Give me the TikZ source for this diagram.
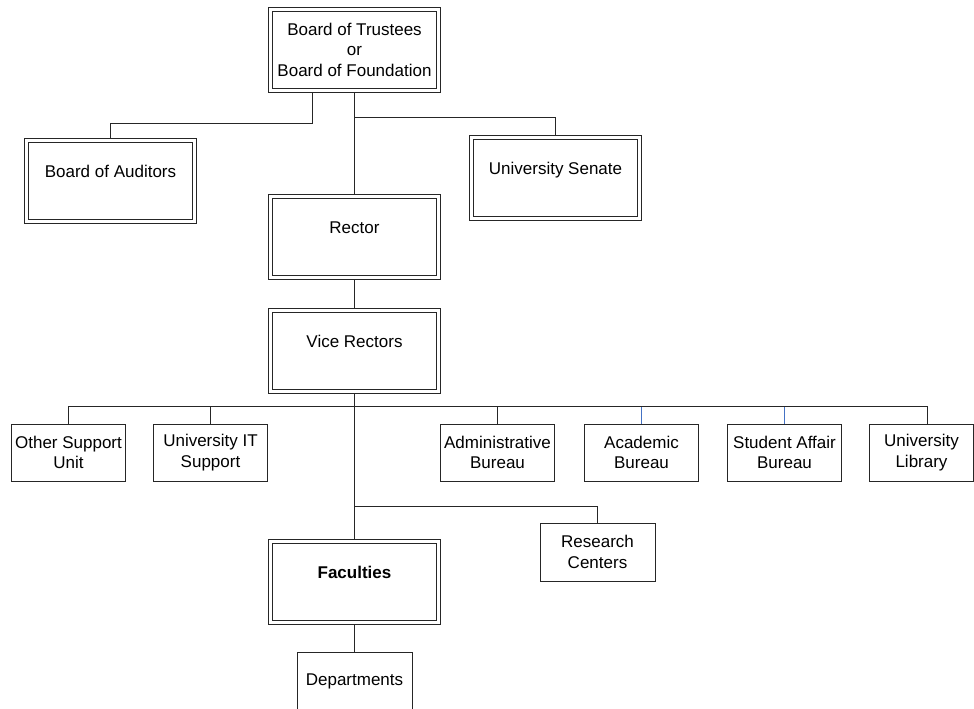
\documentclass[tikz,border=0pt]{standalone}
\usepackage{fontspec}
\setmainfont{Liberation Sans}
\definecolor{linkblue}{RGB}{68,114,196}
\tikzset{
  bigbox/.style={draw=black!85, line width=0.9pt, minimum width=172pt, minimum height=85pt, inner sep=0pt,
    path picture={\draw[black!85, line width=0.9pt] ([shift={(4pt,4pt)}]path picture bounding box.south west) rectangle ([shift={(-4pt,-4pt)}]path picture bounding box.north east);}},
  onerow/.style={text height=12pt, text depth=19pt},
  smallbox/.style={draw=black!85, line width=1pt, minimum width=114pt, minimum height=57pt, align=center, inner sep=0pt},
  conn/.style={draw=black!85, line width=1pt}
}
\begin{document}
\begin{tikzpicture}[x=1pt, y=-1pt, font=\fontsize{17}{20.5}\selectfont, line join=miter]
  \useasboundingbox (0,0) rectangle (974,709);
  \clip (0,0) rectangle (974,709);
  \node[bigbox, align=center] (trustees) at (354.5,49.5) {Board of Trustees\\or\\Board of Foundation};
  \node[bigbox, onerow] (auditors) at (110.5,180.5) {Board of Auditors};
  \node[bigbox, onerow] (senate) at (555.5,177.5) {University Senate};
  \node[bigbox, onerow] (rector) at (354.5,236.5) {Rector};
  \node[bigbox, onerow] (vice) at (354.5,350.5) {Vice Rectors};
  \node[bigbox, onerow] (faculties) at (354.5,581.5) {\bfseries Faculties};
  \node[smallbox] (other) at (68.5,452.5) {Other Support\\Unit};
  \node[smallbox] (itsup) at (210.5,452.5) {University IT\\Support};
  \node[smallbox] (admin) at (497.5,452.5) {Administrative\\Bureau};
  \node[smallbox] (acad) at (641.5,452.5) {Academic\\Bureau};
  \node[smallbox] (stud) at (784.5,452.5) {Student Affair\\Bureau};
  \node[smallbox, minimum width=104pt] (libr) at (921.5,452.5) {University\\Library};
  \node[smallbox, minimum width=115pt, minimum height=58pt] (research) at (597.5,552) {Research\\Centers};
  \node[smallbox, minimum width=115pt, minimum height=58pt] (depts) at (354.5,681) {Departments};
  \coordinate (aj) at (312.5,123.5);
  \coordinate (sj) at (354.5,117.5);
  \coordinate (bus) at (354.5,406.5);
  \coordinate (rj) at (354.5,506.5);
  \draw[conn] ([xshift=-42pt]trustees.south) -- (aj) -| (auditors.north);
  \draw[conn] (trustees.south) -- (rector.north);
  \draw[conn] (sj) -| (senate.north);
  \draw[conn] (rector.south) -- (vice.north);
  \draw[conn, line width=1.4pt] (vice.south) -- (faculties.north);
  \draw[conn] (other.north) |- (bus) -| ([xshift=6pt]libr.north);
  \foreach \n in {itsup,admin}
    \draw[conn] (\n.north) -- (\n.north |- bus);
  \foreach \n in {acad,stud}
    \draw[linkblue, line width=1pt] (\n.north) -- (\n.north |- bus);
  \draw[conn] (rj) -| (research.north);
  \draw[conn] (faculties.south) -- (depts.north);
\end{tikzpicture}
\end{document}
